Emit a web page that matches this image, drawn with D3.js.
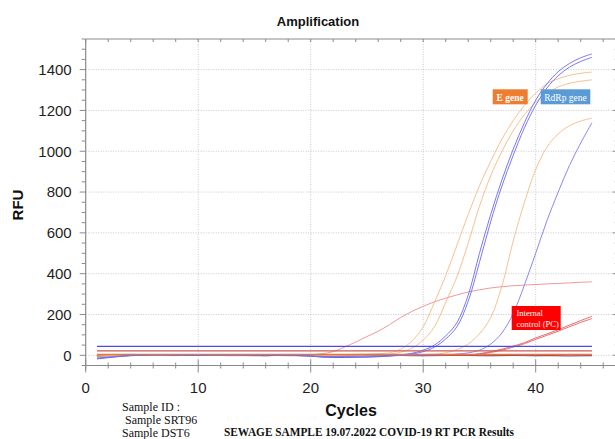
<!DOCTYPE html>
<html><head><meta charset="utf-8">
<script src="https://cdn.jsdelivr.net/npm/d3@7"></script>
<style>
html,body{margin:0;padding:0;background:#fff;}
svg{display:block;}
</style></head>
<body>
<svg id="chart" width="615" height="439"></svg>
<script>
// ---------------- data ----------------
const cycles = [1,2,3,4,5,6,7,8,9,10,11,12,13,14,15,16,17,18,19,20,21,22,23,24,25,26,27,28,29,30,31,32,33,34,35,36,37,38,39,40,41,42,43,44,45];

// E gene (orange)
const eGene1 = [3,2,4,5,3,2,4,3,2,3, 4,3,2,3,4,2,3,4,3,2, 3,4,3,5,6,8,12,30,70,140, 260,390,540,690,830,950,1060,1150,1225,1285, 1330,1355,1372,1382,1388];
const eGene2 = [-4,-2,1,2,3,1,-1,2,3,1, 0,2,3,1,-1,-3,0,2,1,0, -2,-1,1,2,3,4,6,15,35,75, 140,260,385,550,730,880,1000,1100,1180,1240, 1285,1315,1333,1343,1350];
const eGene3 = [2,1,0,2,3,2,1,0,1,2, 3,2,1,-1,-2,0,1,2,1,0, -1,-3,-4,-2,0,1,2,3,3,4, 5,12,28,55,105,185,340,560,750,910, 1020,1085,1125,1148,1162];
const eGene4 = [-6,-3,-1,0,2,1,-1,-2,0,1, 2,1,-1,-2,-1,0,1,0,-2,-4, -6,-5,-3,-1,0,1,0,-1,-2,-1, 0,1,0,-1,-2,-1,0,1,0,-1, -2,-1,0,1,0];

// RdRp gene (blue)
const rdrp1 = [-18,-12,-6,-2,0,2,3,1,0,-1, 1,2,3,2,0,-2,-1,0,-1,-3, -8,-10,-10,-9,-8,-6,-3,2,10,25, 50,95,160,295,500,690,860,1010,1140,1250, 1330,1390,1430,1458,1477];
const rdrp2 = [-16,-10,-5,-1,1,3,2,0,-1,0, 2,3,2,1,-1,-2,0,1,-2,-4, -9,-11,-11,-10,-9,-7,-4,0,6,18, 40,80,140,265,455,655,830,980,1115,1225, 1310,1370,1412,1440,1460];
const rdrp3 = [-12,-8,-4,-1,0,1,0,-1,0,1, 0,-1,-2,-1,0,1,0,-1,-2,-3, -5,-6,-6,-5,-4,-3,-2,-1,0,0, 1,2,6,12,25,55,110,205,345,500, 660,800,930,1040,1140];
const rdrp4 = [-4,-2,0,1,2,1,0,-1,0,1, 2,1,0,-1,-2,-1,0,1,0,-2, -4,-5,-4,-3,-2,-1,0,-1,-2,-3, -2,-1,0,-1,-2,-3,-2,-1,-2,-3, -2,-3,-4,-3,-3];

// Internal control (red)
const ic1 = [0,1,2,1,0,1,2,1,0,1, 2,1,0,1,2,1,1,2,2,3, 8,18,40,65,92,118,150,185,215,240, 262,280,296,310,321,330,336,341,344,347, 350,352,355,358,360];
const ic2 = [-2,0,1,2,1,0,-1,0,1,2, 1,0,-1,0,1,2,1,0,-1,-2, -1,0,1,0,-1,0,1,0,-1,0, 1,0,1,2,8,18,30,45,62,85, 105,125,148,170,191];
const ic3 = [-3,-1,0,1,0,-1,0,1,0,-1, 0,1,0,-1,0,1,0,-1,0,-1, -2,-1,0,-1,-2,-1,0,-1,0,-1, 0,-1,0,0,5,14,25,40,57,78, 98,118,140,161,180];
const ic4 = [1,2,1,0,-1,0,1,2,1,0, -1,0,1,2,1,0,-1,-2,-1,0, 1,0,-1,0,1,2,1,0,-1,0, 1,0,-1,0,1,0,-1,0,1,0, -1,0,1,0,-1];

// thresholds (blue, red, orange)
const thresholds = [44, 22, 5];

const xTicks = [0,10,20,30,40];
const yTicks = [0,200,400,600,800,1000,1200,1400];
const legendLabels = ["E gene", "RdRp gene", "Internal", "control (PC)"];
const sampleLines = ["Sample ID :", " Sample SRT96", "Sample DST6"];
const footer = "SEWAGE SAMPLE 19.07.2022 COVID-19 RT PCR Results";

// ---------------- drawing ----------------
const svg = d3.select("#chart");
svg.append("rect").attr("width",615).attr("height",439).attr("fill","#fff");

const pLeft = 85.7, pRight = 616.7, pTop = 39, pBottom = 365.5;
const x = d3.scaleLinear().domain([0, 47.2]).range([pLeft, pRight]);
const y = d3.scaleLinear().domain([-50, 1550]).range([pBottom, pTop]);

const axisColor = "#8a8a8a";
const gridColor = "#c8c8c8";

// grid
const grid = svg.append("g");
grid.selectAll("line.gy").data(yTicks).join("line")
  .attr("x1", pLeft).attr("x2", pRight)
  .attr("y1", d=>y(d)).attr("y2", d=>y(d))
  .attr("stroke", gridColor).attr("stroke-width",1).attr("stroke-dasharray","1,1.5");
grid.selectAll("line.gx").data(xTicks.slice(1)).join("line")
  .attr("x1", d=>x(d)).attr("x2", d=>x(d))
  .attr("y1", pTop).attr("y2", pBottom)
  .attr("stroke", gridColor).attr("stroke-width",1).attr("stroke-dasharray","1,1.5");

// frame lines
const frame = svg.append("g").attr("stroke", axisColor).attr("stroke-width",1.2);
frame.append("line").attr("x1",pLeft).attr("x2",pLeft).attr("y1",pTop).attr("y2",pBottom+4);
frame.append("line").attr("x1",pLeft).attr("x2",pRight).attr("y1",pBottom).attr("y2",pBottom);
frame.append("line").attr("x1",pLeft).attr("x2",pRight).attr("y1",pTop).attr("y2",pTop);
frame.append("line").attr("x1",pRight).attr("x2",pRight).attr("y1",pTop).attr("y2",pBottom);

// y ticks (left and right)
const yMinor = d3.range(-50, 1551, 50);
const tk = svg.append("g").attr("stroke", axisColor).attr("stroke-width",1);
tk.selectAll("line.ym").data(yMinor).join("line")
  .attr("x1", d => yTicks.includes(d) ? pLeft-6 : pLeft-4).attr("x2", pLeft)
  .attr("y1", d=>y(d)).attr("y2", d=>y(d));
tk.selectAll("line.yr").data(yMinor).join("line")
  .attr("x1", d => yTicks.includes(d) ? pRight-4 : pRight-2).attr("x2", pRight)
  .attr("y1", d=>y(d)).attr("y2", d=>y(d));
// x ticks
const xMinor = d3.range(0, 47.2, 2);
tk.selectAll("line.xb").data(xMinor.concat(xTicks.filter(t=>t%2))).join("line")
  .attr("x1", d=>x(d)).attr("x2", d=>x(d))
  .attr("y1", d => xTicks.includes(d) ? pBottom-6 : pBottom-3)
  .attr("y2", d => xTicks.includes(d) ? pBottom+7 : pBottom+3);
tk.selectAll("line.xt").data(xMinor).join("line")
  .attr("x1", d=>x(d)).attr("x2", d=>x(d))
  .attr("y1", pTop).attr("y2", pTop+3);

// tick labels
const lab = svg.append("g").attr("font-family","'Liberation Sans', Arial, sans-serif")
  .attr("font-size","15px").attr("fill","#1e1e1e");
lab.selectAll("text.y").data(yTicks).join("text")
  .attr("x", pLeft-14).attr("y", d=>y(d)+5.3).attr("text-anchor","end").text(d=>d);
lab.selectAll("text.x").data(xTicks).join("text")
  .attr("x", d=>x(d)).attr("y", 393).attr("text-anchor","middle").text(d=>d);

// titles
svg.append("text").attr("x",318).attr("y",26).attr("text-anchor","middle")
  .attr("font-family","'Liberation Sans', Arial, sans-serif").attr("font-weight","bold")
  .attr("font-size","13px").attr("fill","#111").text("Amplification");
svg.append("text").attr("transform","translate(23,205) rotate(-90)").attr("text-anchor","middle")
  .attr("font-family","'Liberation Sans', Arial, sans-serif").attr("font-weight","bold")
  .attr("font-size","15px").attr("fill","#111").text("RFU");
svg.append("text").attr("x",351).attr("y",416).attr("text-anchor","middle")
  .attr("font-family","'Liberation Sans', Arial, sans-serif").attr("font-weight","bold")
  .attr("font-size","16px").attr("fill","#111").text("Cycles");

// curves
const line = d3.line().x((d,i)=>x(cycles[i])).y(d=>y(d)).curve(d3.curveCatmullRom.alpha(0.5));
const curves = [
  {v: eGene4, c:"#f0a060", w:1, o:0.75},
  {v: rdrp4, c:"#5a3fc0", w:1, o:0.75},
  {v: ic4, c:"#c0392b", w:1, o:0.75},
  {v: ic1, c:"#ec8080", w:1, o:0.8},
  {v: ic2, c:"#e44848", w:1, o:0.8},
  {v: ic3, c:"#e44848", w:1, o:0.8},
  {v: eGene1, c:"#f4b274", w:1, o:0.8},
  {v: eGene2, c:"#f4b274", w:1, o:0.8},
  {v: eGene3, c:"#f4b274", w:1, o:0.8},
  {v: rdrp1, c:"#6262ee", w:1, o:0.85},
  {v: rdrp2, c:"#6262ee", w:1, o:0.85},
  {v: rdrp3, c:"#7474ee", w:1, o:0.85}
];
const cg = svg.append("g").attr("fill","none");
cg.selectAll("path").data(curves).join("path")
  .attr("d", d=>line(d.v)).attr("stroke", d=>d.c).attr("stroke-width", d=>d.w).attr("stroke-opacity", d=>d.o);

// thresholds
const thrColors = ["#4a4ae6", "#c85a5a", "#e07a3a"];
svg.append("g").selectAll("line").data(thresholds).join("line")
  .attr("x1", x(cycles[0])).attr("x2", x(cycles[cycles.length-1]))
  .attr("y1", d=>y(d)).attr("y2", d=>y(d))
  .attr("stroke", (d,i)=>thrColors[i]).attr("stroke-width",1.3);

// legend boxes
const lg = svg.append("g").attr("font-family","'Liberation Serif', 'Times New Roman', serif").attr("fill","#fff");
lg.append("rect").attr("x",492.7).attr("y",89.3).attr("width",35).attr("height",15).attr("fill","#ed7d31");
lg.append("text").attr("x",510.2).attr("y",100.5).attr("text-anchor","middle").attr("font-size","9.5px").attr("font-weight","bold").text(legendLabels[0]);
lg.append("rect").attr("x",540.7).attr("y",89.3).attr("width",49.6).attr("height",15).attr("fill","#5b9bd5");
lg.append("text").attr("x",565.5).attr("y",100.5).attr("text-anchor","middle").attr("font-size","9.5px").text(legendLabels[1]);
lg.append("rect").attr("x",511.7).attr("y",306).attr("width",49).attr("height",24).attr("fill","#ff0000");
lg.append("text").attr("x",516.5).attr("y",316).attr("font-size","8.5px").text(legendLabels[2]);
lg.append("text").attr("x",516.5).attr("y",326.5).attr("font-size","8.5px").text(legendLabels[3]);

// bottom notes
const notes = svg.append("g").attr("font-family","'Liberation Serif', 'Times New Roman', serif").attr("fill","#111");
notes.selectAll("text").data(sampleLines).join("text")
  .attr("x", 122).attr("y",(d,i)=>410.5 + i*13.3)
  .attr("font-size","12px").style("white-space","pre").text(d=>d);
notes.append("text").attr("x",224).attr("y",435.5).attr("font-size","12px").attr("font-weight","bold")
  .attr("textLength",290).attr("lengthAdjust","spacingAndGlyphs").text(footer);
</script>
</body></html>
